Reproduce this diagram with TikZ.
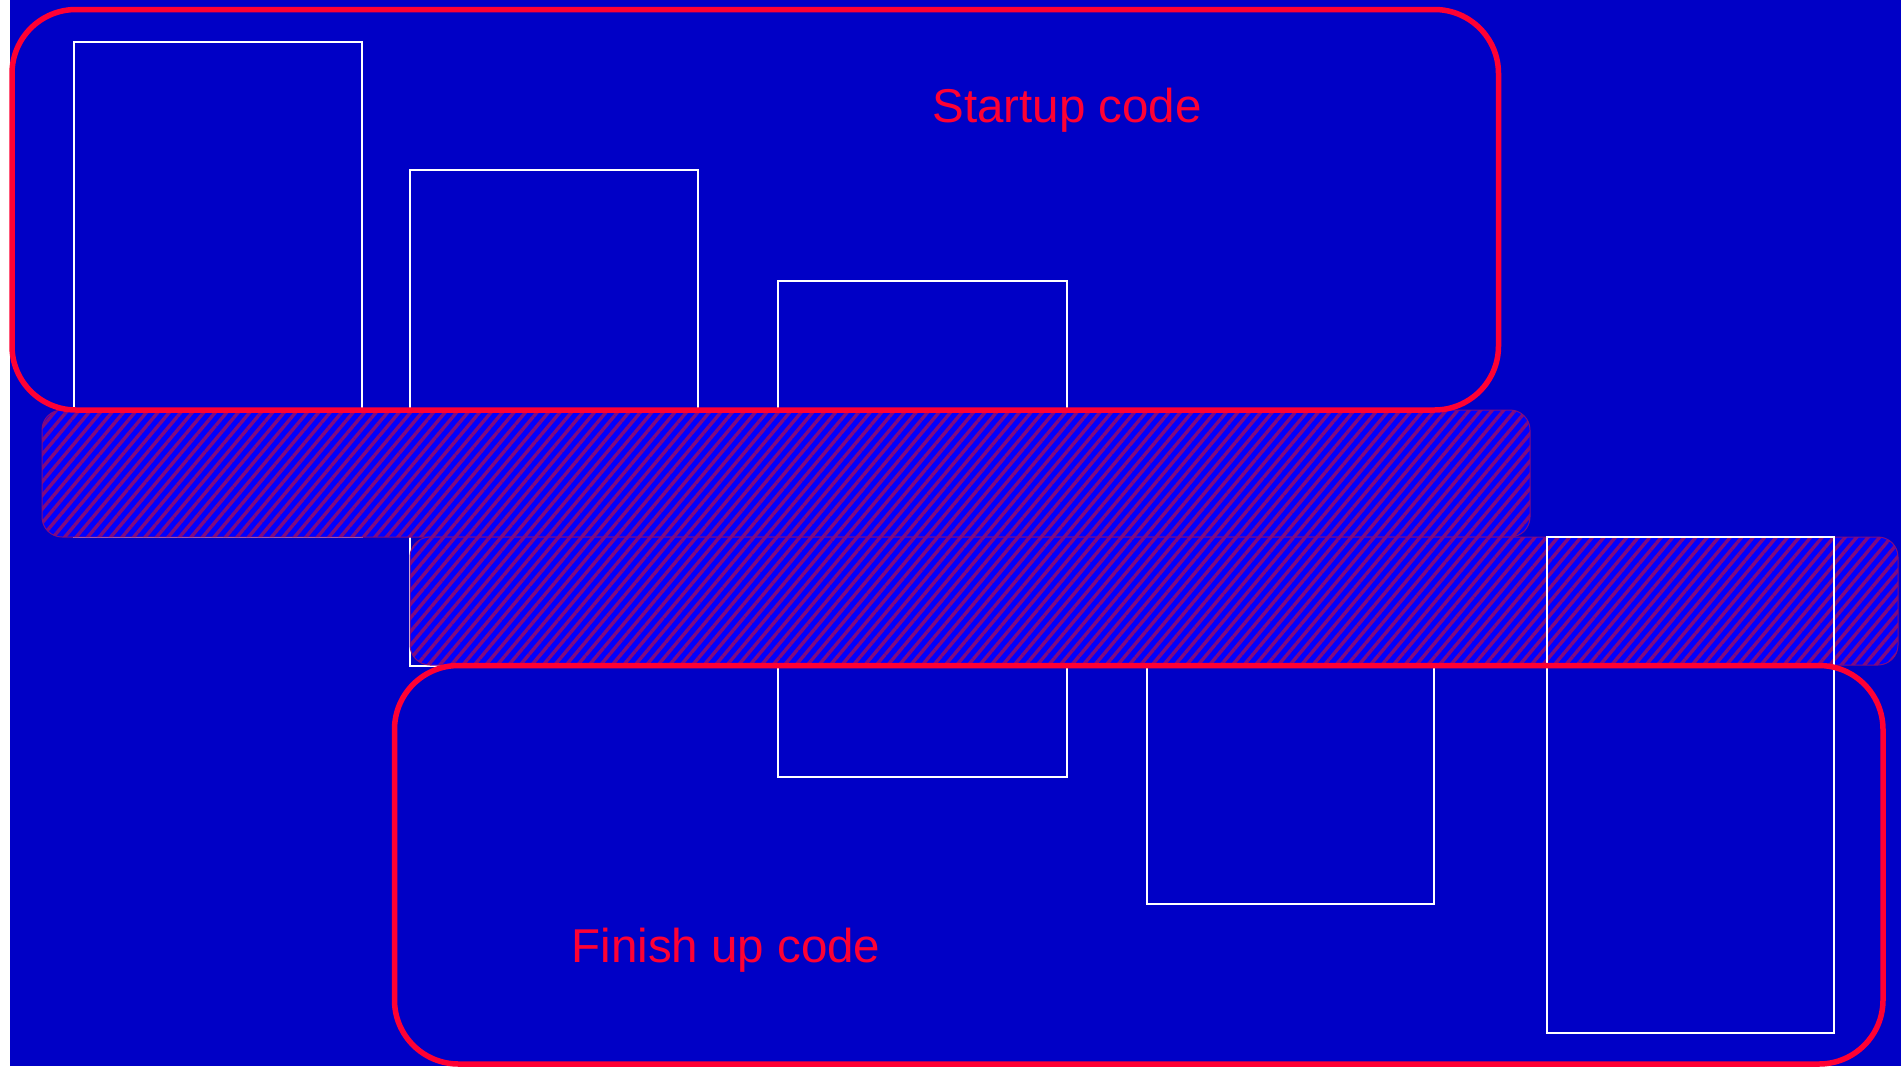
\documentclass[tikz,border=0pt]{standalone}
\usepackage{fontspec}
\setmainfont{Liberation Sans}
\usetikzlibrary{patterns.meta}
\definecolor{bgblue}{RGB}{0,0,198}
\definecolor{bandblue}{RGB}{0,0,255}
\definecolor{hatch}{RGB}{128,10,128}
\definecolor{redline}{RGB}{255,0,51}
\tikzset{
  whitebox/.style={draw=white, line width=1.6pt},
  band/.style={draw=hatch, line width=1pt, rounded corners=20pt,
    preaction={fill=bandblue},
    pattern={Lines[angle=50,distance=8.8pt,line width=3.4pt]}, pattern color=hatch},
  redbox/.style={draw=redline, line width=5.5pt, rounded corners=64pt},
  label/.style={text=redline, font=\fontsize{47.5}{56}\selectfont, inner sep=0pt, anchor=base}
}
\begin{document}
\begin{tikzpicture}[x=1pt,y=-1pt]
\useasboundingbox (0,0) rectangle (1901,1066);
\fill[white] (0,0) rectangle (1901,1066);
\fill[bgblue] (10,0) rectangle (1901,1066);
% white boxes behind the bands
\draw[whitebox] (74,42) rectangle (362,537.5);
\draw[whitebox] (410,170) rectangle (698,666);
\draw[whitebox] (778,281) rectangle (1067,777);
\draw[whitebox] (1147,410) rectangle (1434,904);
% hatched bands
\draw[band] (42,410) rectangle (1530,537);
\draw[band] (410,537) rectangle (1898,665);
% box in front of the second band
\draw[whitebox] (1547,537) rectangle (1834,1033);
% red rounded frames
\draw[redbox] (12,9.5) rectangle (1498.5,410);
\draw[redbox] (394.5,665.5) rectangle (1883,1064);
\node[label] (startup) at (1067,122) {Startup code};
\node[label] (finish) at (726,962) {Finish up code};
\end{tikzpicture}
\end{document}
